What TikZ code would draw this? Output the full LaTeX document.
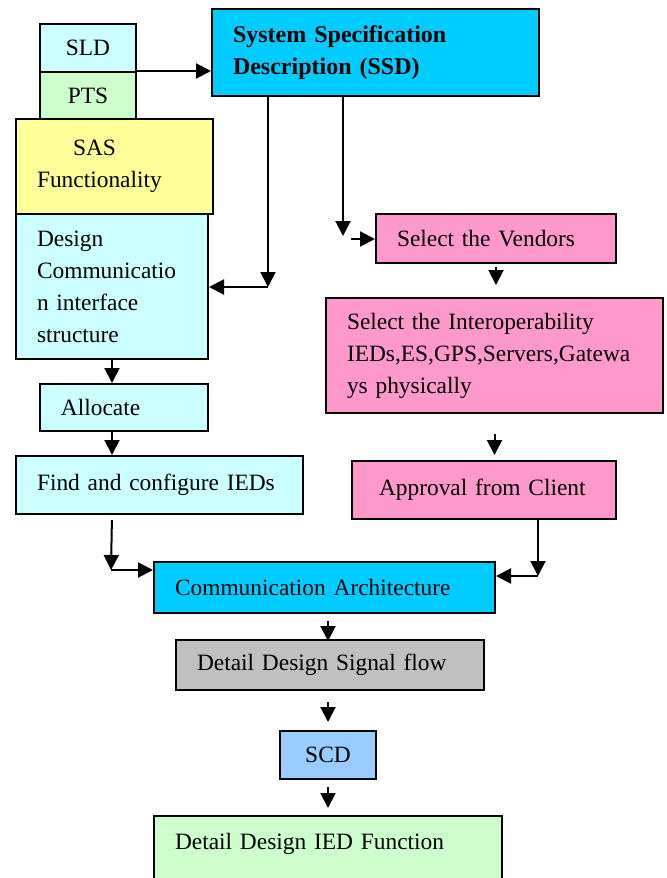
\documentclass[tikz,border=0pt]{standalone}
\usepackage{fontspec}
\setmainfont{Liberation Serif}
\usetikzlibrary{arrows.meta}
\definecolor{lcyan}{HTML}{CCFFFF}
\definecolor{lgreen}{HTML}{CCFFCC}
\definecolor{lyellow}{HTML}{FFFF99}
\definecolor{ssdblue}{HTML}{00CCFF}
\definecolor{vpink}{HTML}{FF99CC}
\definecolor{sgray}{HTML}{C0C0C0}
\definecolor{scdblue}{HTML}{99CCFF}
\tikzset{
	box/.style={draw, line width=1pt, anchor=north west, align=left, inner xsep=10.5pt, inner ysep=2pt, font=\fontsize{11.7}{16}\selectfont},
	link/.style={line width=1pt, ->},
}
\begin{document}
\begin{tikzpicture}[x=1pt, y=-1pt, >={Triangle[length=7.5pt,width=7.5pt]}]
	\useasboundingbox (0,0) rectangle (333.5,439);
	\clip (0,0) rectangle (333.5,439);
	% left column
	\node[box, fill=lcyan, text width=27pt, minimum height=24pt, align=center] (sld) at (19.5,11.5) {SLD};
	\node[box, fill=lgreen, text width=27pt, minimum height=23.5pt, align=center] (pts) at (19.5,35.5) {PTS};
	\node[box, fill=lyellow, text width=77.5pt, minimum height=47.5pt] (sas) at (7.5,59) {\hspace*{18pt}SAS\\Functionality};
	\node[box, fill=lcyan, text width=75pt, minimum height=72.5pt] (dci) at (7.5,106.5) {Design\\Communicatio\\n interface\\structure};
	\node[box, fill=lcyan, text width=63pt, minimum height=23.5pt] (alloc) at (19.5,191.5) {Allocate};
	\node[box, fill=lcyan, text width=122.5pt, minimum height=29pt] (ieds) at (7.5,227.5) {Find and configure IEDs};
	% right column
	\node[box, fill=ssdblue, text width=142.5pt, minimum height=43.5pt, font=\fontsize{12}{16}\selectfont\bfseries] (ssd) at (105.5,4) {System Specification\\Description (SSD)};
	\node[box, fill=vpink, text width=99pt, minimum height=24.5pt] (vend) at (187.5,106.5) {Select the Vendors};
	\node[box, fill=vpink, text width=147.5pt, minimum height=57.5pt] (interop) at (162.5,148.5) {Select the Interoperability\\IEDs,ES,GPS,Servers,Gatewa\\ys physically};
	\node[box, fill=vpink, text width=111pt, minimum height=29pt] (client) at (175.5,230) {\hspace*{3pt}Approval from Client};
	% bottom
	\node[box, fill=ssdblue, text width=149.5pt, minimum height=25.5pt] (arch) at (76.5,280.5) {Communication Architecture};
	\node[box, fill=sgray, text width=133pt, minimum height=25pt] (flow) at (87.5,319.5) {Detail Design Signal flow};
	\node[box, fill=scdblue, text width=27pt, minimum height=24pt, align=center] (scd) at (139.5,365) {SCD};
	\node[box, fill=lgreen, text width=153pt, inner ysep=8.5pt, text depth=40pt] (iedf) at (76.5,407.5) {Detail Design IED Function};
	% connectors
	\coordinate (k1) at (134,143.5);
	\coordinate (k2) at (171.5,118);
	\coordinate (k3) at (175.5,119.5);
	\coordinate (k4) at (269,288);
	\coordinate (k5) at (55.5,285);
	\draw[link] (pts.north east) -- (pts.north east -| ssd.west);
	\draw[link] (ssd.south -| k1) -- (k1);
	\draw[link] (k1) -- (k1 -| dci.east);
	\draw[link] (ssd.south -| k2) -- (k2);
	\draw[link] (k3) -- (k3 -| vend.west);
	\draw[link, shorten <=1.5pt, shorten >=6pt] (vend.south) -- (vend.south |- interop.north);
	\draw[link, shorten <=10pt, shorten >=2.5pt] (interop.south) -- (interop.south |- client.north);
	\draw[link] (client.south -| k4) -- (k4);
	\draw[link] (k4) -- (k4 -| arch.east);
	\draw[link] (dci.south) -- (alloc.north -| dci.south);
	\draw[link] (alloc.south -| dci.south) -- (ieds.north -| dci.south);
	\draw[link, shorten <=2.5pt] (ieds.south -| dci.south) -- (k5);
	\draw[link] (k5) -- (k5 -| arch.west);
	\draw[link, shorten <=3.5pt, shorten >=-1pt] (arch.south -| scd.north) -- (flow.north -| scd.north);
	\draw[link, shorten <=5.5pt, shorten >=4pt] (flow.south -| scd.north) -- (scd.north);
	\draw[link, shorten <=3.5pt, shorten >=3.5pt] (scd.south) -- (iedf.north -| scd.south);
\end{tikzpicture}
\end{document}
